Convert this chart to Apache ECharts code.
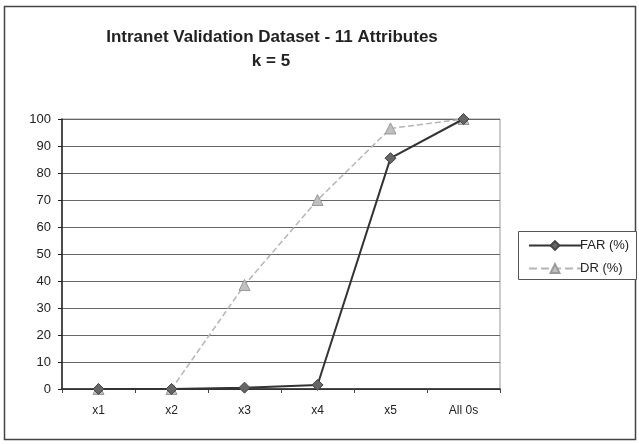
<!DOCTYPE html>
<html><head><meta charset="utf-8">
<script src="https://cdn.jsdelivr.net/npm/echarts@6/dist/echarts.min.js"></script>
<style>html,body{margin:0;padding:0;background:#fff}#c{width:639px;height:444px}</style>
</head><body><div id="c"></div>
<script>
const categories = ['x1','x2','x3','x4','x5','All 0s'];
const farValues = [0, 0, 0.5, 1.5, 85.5, 100];
const drValues = [0, 0, 38.5, 70, 96.5, 100];
const yTicks = [0,10,20,30,40,50,60,70,80,90,100];

const chart = echarts.init(document.getElementById('c'));
chart.setOption({
  backgroundColor: '#fff',
  animation: false,
  graphic: [{type:'rect', shape:{x:4.5,y:6.5,width:631,height:433}, style:{fill:'none', stroke:'#444', lineWidth:1.5}, silent:true},
            {type:'rect', shape:{x:518.5,y:231.5,width:118,height:48}, style:{fill:'#fff', stroke:'#555', lineWidth:1}, silent:true, z:0}],
  title: [
    {text:'Intranet Validation Dataset - 11 Attributes', left:267, textAlign:'center', top:24, textStyle:{fontFamily:'Liberation Sans, Arial', fontSize:17, fontWeight:'bold', color:'#222'}},
    {text:'k = 5', left:266, textAlign:'center', top:48, textStyle:{fontFamily:'Liberation Sans, Arial', fontSize:17, fontWeight:'bold', color:'#222'}}
  ],
  legend: {
    orient:'vertical', left:523, top:234, itemGap:10, itemWidth:52, itemHeight:11,
    textStyle:{fontFamily:'Liberation Sans, Arial', fontSize:13, color:'#222', padding:[0,0,0,-6]},
    data:['FAR (%)','DR (%)']
  },
  grid: {left:62, right:139, top:119, bottom:55, show:true, borderColor:'#999', borderWidth:1},
  xAxis: {
    type:'category', data:categories, boundaryGap:true,
    axisLine:{lineStyle:{color:'#222', width:1.5}},
    axisTick:{show:true, inside:false, length:4, lineStyle:{color:'#444'}},
    axisLabel:{fontFamily:'Liberation Sans, Arial', fontSize:12, color:'#222', margin:16}
  },
  yAxis: {
    type:'value', min:0, max:100, interval:10,
    axisLine:{show:true, lineStyle:{color:'#222', width:1.5}},
    axisTick:{show:true, length:4, lineStyle:{color:'#222'}},
    axisLabel:{fontFamily:'Liberation Sans, Arial', fontSize:13, color:'#222', margin:11,
      formatter: v => yTicks.includes(v) ? String(v) : ''},
    splitLine:{show:true, lineStyle:{color:'#666', width:1}}
  },
  series: [
    {name:'DR (%)', type:'line', data:drValues, symbol:'triangle', symbolSize:11,
     lineStyle:{color:'#b5b5b5', width:1.5, type:'dashed'}, itemStyle:{color:'#c0c0c0', borderColor:'#999', borderWidth:1}, z:2},
    {name:'FAR (%)', type:'line', data:farValues, symbol:'diamond', symbolSize:11,
     lineStyle:{color:'#333', width:2}, itemStyle:{color:'#666', borderColor:'#444', borderWidth:1}, z:3}
  ]
});
</script></body></html>
